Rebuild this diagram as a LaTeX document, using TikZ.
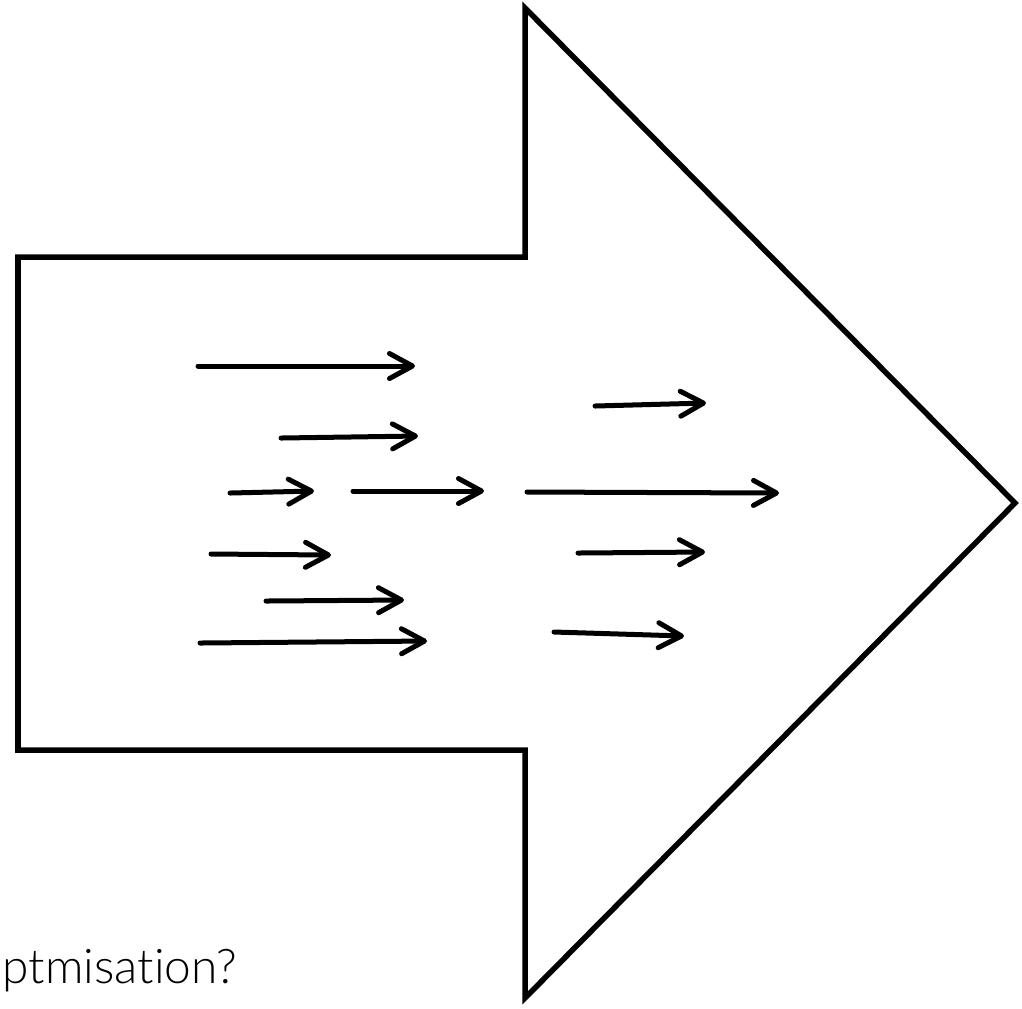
\documentclass[tikz,border=0pt]{standalone}
\usepackage{fontspec}
\newfontfamily\captionfont[Ligatures={NoCommon,NoRequired,NoContextual}]{Lato Light}
\usetikzlibrary{arrows.meta}
\tikzset{
  outline/.style={draw=black, line width=0.055cm, line join=miter, fill=white},
  flow/.style={draw=black, line width=0.05cm, line cap=round,
    -{Straight Barb[length=2.3mm, width=2.5mm, line cap=round, line join=round]}},
  caption/.style={font=\captionfont\fontsize{13.6pt}{17pt}\selectfont, inner sep=0pt, anchor=base west}
}
\begin{document}
\begin{tikzpicture}[x=0.01cm, y=-0.01cm]
  \useasboundingbox (0,0) rectangle (1022,1008);
  % block arrow outline
  \draw[outline] (18,257) -- (525,257) -- (525,8) -- (1015,503)
    -- (525,998) -- (525,750) -- (18,750) -- cycle;
  % flow arrows inside the shaft
  \foreach \xa/\ya/\xb/\yb in {
      198/366/415/366,
      281/438/418/436,
      230/493/314/491,
      353/491/484/491,
      211/554/331/555,
      266/601/404/600,
      200/643/427/641,
      595/406/706/403,
      527/492/779/493,
      578/553/705/552,
      554/632/684/636}
    \draw[flow] (\xa,\ya) -- (\xb,\yb);
  \node[caption] (cap) at (2,983) {ptmisation?};
\end{tikzpicture}
\end{document}
